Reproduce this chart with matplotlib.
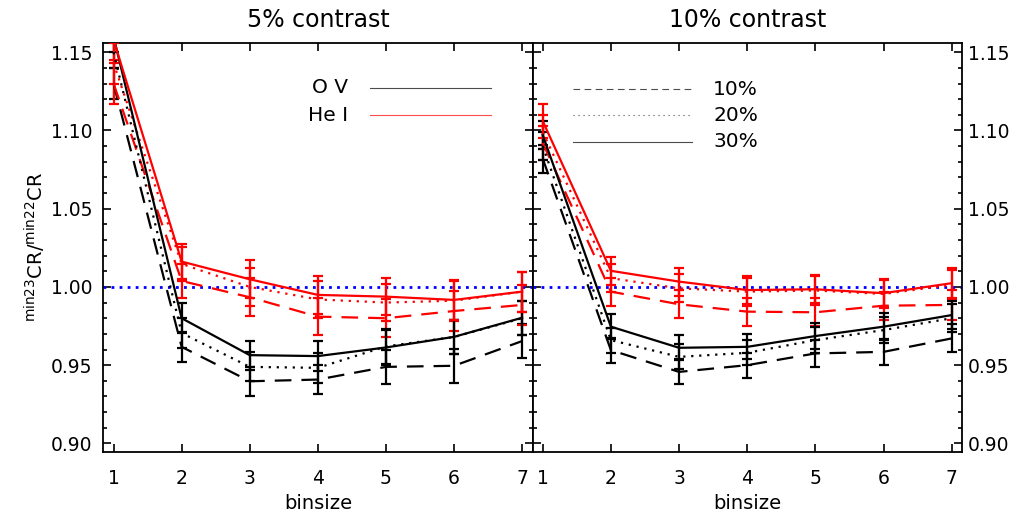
"""Ratio of min23/min22 contrast ratios versus bin size for O V and He I."""
import matplotlib

matplotlib.use("Agg")
import matplotlib.pyplot as plt
from matplotlib.ticker import MultipleLocator

binsize = [1, 2, 3, 4, 5, 6, 7]
thresholds = ["10%", "20%", "30%"]

# 5% contrast panel
ov_5 = {
    "10%": [1.130, 0.9617, 0.9397, 0.9408, 0.9489, 0.9496, 0.9654],
    "20%": [1.150, 0.9705, 0.9489, 0.9483, 0.9620, 0.9680, 0.9800],
    "30%": [1.160, 0.9800, 0.9564, 0.9558, 0.9613, 0.9681, 0.9803],
}
ov_5_err = [0.010, 0.0095, 0.0092, 0.0095, 0.011, 0.011, 0.011]
hei_5 = {
    "10%": [1.130, 1.0038, 0.9934, 0.9810, 0.9800, 0.9846, 0.9885],
    "20%": [1.143, 1.0147, 1.0000, 0.9920, 0.9900, 0.9912, 0.9970],
    "30%": [1.158, 1.0162, 1.0049, 0.9949, 0.9938, 0.9917, 0.9970],
}
hei_5_err = [0.013, 0.011, 0.012, 0.012, 0.012, 0.0128, 0.0128]

# 10% contrast panel
ov_10 = {
    "10%": [1.082, 0.9596, 0.9457, 0.9500, 0.9575, 0.9585, 0.9671],
    "20%": [1.090, 0.9660, 0.9553, 0.9579, 0.9660, 0.9724, 0.9800],
    "30%": [1.097, 0.9746, 0.9611, 0.9617, 0.9686, 0.9746, 0.9820],
}
ov_10_err = [0.009, 0.008, 0.008, 0.008, 0.0085, 0.0085, 0.009]
hei_10 = {
    "10%": [1.092, 0.9970, 0.9889, 0.9842, 0.9838, 0.9880, 0.9885],
    "20%": [1.099, 1.0056, 0.9991, 0.9970, 0.9977, 0.9955, 1.0013],
    "30%": [1.106, 1.0103, 1.0034, 0.9980, 0.9985, 0.9960, 1.0024],
}
hei_10_err = [0.011, 0.009, 0.009, 0.009, 0.009, 0.009, 0.0096]

styles = {"10%": (0, (7.5, 4.5)), "20%": (0, (1, 2.6)), "30%": "-"}
key_styles = {"10%": (0, (6, 4)), "20%": (0, (1, 3.5)), "30%": "-"}
plt.rcParams["font.family"] = "DejaVu Sans"

fig = plt.figure(figsize=(10.17, 5.14), dpi=100)
ax1 = fig.add_axes([0.1016, 0.120, 0.4222, 0.7973])
ax2 = fig.add_axes([0.5236, 0.120, 0.4226, 0.7973])


def draw_panel(ax, ov, ov_err, hei, hei_err):
    for key in thresholds:
        for values, err, color in ((ov[key], ov_err, "black"), (hei[key], hei_err, "red")):
            ax.errorbar(binsize, values, yerr=err, color=color, ls=styles[key], lw=1.6,
                        elinewidth=1.6, capsize=3.8, capthick=1.6, zorder=3)
    ax.axhline(1.0, color="#0000ff", ls=(0, (1, 1.9)), lw=2.0, zorder=2)
    ax.set_xlim(0.85, 7.155)
    ax.set_ylim(0.8943, 1.1562)
    ax.set_xticks(binsize)
    ax.yaxis.set_major_locator(MultipleLocator(0.05))
    ax.yaxis.set_minor_locator(MultipleLocator(0.01))
    ax.yaxis.set_major_formatter(lambda v, pos: f"{v:.2f}")
    ax.tick_params(direction="in", top=True, right=True, width=1.2, length=5.5,
                   labelsize=13.5, pad=12)
    ax.tick_params(axis="y", which="minor", direction="in", left=True, right=True,
                   width=1.2, length=3)
    ax.tick_params(axis="x", which="minor", bottom=False, top=False)
    ax.set_xlabel("binsize", fontsize=14, labelpad=4)
    for spine in ax.spines.values():
        spine.set_linewidth(1.3)


draw_panel(ax1, ov_5, ov_5_err, hei_5, hei_5_err)
draw_panel(ax2, ov_10, ov_10_err, hei_10, hei_10_err)

ax1.tick_params(axis="y", labelleft=True, labelright=False, pad=8)
ax2.tick_params(axis="y", labelleft=False, labelright=True, pad=4)
ax1.set_ylabel(r"$^{\rm min23}$CR/$^{\rm min22}$CR", fontsize=14, labelpad=2)

# species key
ax1.plot([0.621, 0.903], [0.889, 0.889], transform=ax1.transAxes, color="black", lw=0.8, alpha=0.7)
ax1.plot([0.621, 0.903], [0.823, 0.823], transform=ax1.transAxes, color="red", lw=0.8, alpha=0.7)
ax1.text(0.570, 0.889, "O V", transform=ax1.transAxes, ha="right", va="center", fontsize=14.5)
ax1.text(0.570, 0.823, "He I", transform=ax1.transAxes, ha="right", va="center", fontsize=14.5)

# threshold key
for key, ypos in zip(thresholds, [0.886, 0.823, 0.758]):
    ax2.plot([0.094, 0.371], [ypos, ypos], transform=ax2.transAxes, color="black",
             lw=0.8, alpha=0.7, ls=key_styles[key])
    ax2.text(0.42, ypos, key, transform=ax2.transAxes, ha="left", va="center", fontsize=14.5)

fig.text(0.3127, 0.962, "5% contrast", ha="center", va="center", fontsize=17)
fig.text(0.7349, 0.962, "10% contrast", ha="center", va="center", fontsize=17)

fig.savefig("out.png", dpi=100, facecolor="white")
